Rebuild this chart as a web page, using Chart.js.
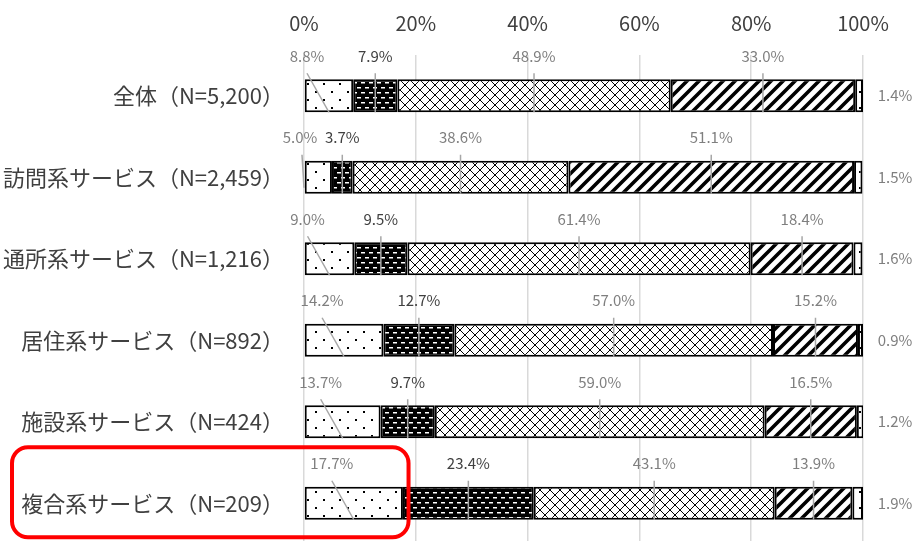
<!DOCTYPE html>
<html>
<head>
<meta charset="utf-8">
<script src="https://cdn.jsdelivr.net/npm/chart.js@4"></script>
<style>
  html, body { margin: 0; padding: 0; background: #fff; overflow: hidden; }
  #wrap { width: 912px; height: 544px; }
</style>
</head>
<body>
<div id="wrap"><canvas id="chart" width="912" height="544"></canvas></div>
<script>
const categories = ['全体（N=5,200）', '訪問系サービス（N=2,459）', '通所系サービス（N=1,216）', '居住系サービス（N=892）', '施設系サービス（N=424）', '複合系サービス（N=209）'];
const series1 = [8.8, 5.0, 9.0, 14.2, 13.7, 17.7];
const series2 = [7.9, 3.7, 9.5, 12.7, 9.7, 23.4];
const series3 = [48.9, 38.6, 61.4, 57.0, 59.0, 43.1];
const series4 = [33.0, 51.1, 18.4, 15.2, 16.5, 13.9];
const series5 = [1.4, 1.5, 1.6, 0.9, 1.2, 1.9];
const xTicks = [0, 20, 40, 60, 80, 100];

const FONT = '"Noto Sans CJK JP", "Noto Sans", sans-serif';

function makePattern(w, h, draw) {
  const c = document.createElement('canvas');
  c.width = w; c.height = h;
  const g = c.getContext('2d');
  draw(g, w, h);
  return document.getElementById('chart').getContext('2d').createPattern(c, 'repeat');
}

// sparse dots
const dots = makePattern(16, 16, (g, w, h) => {
  g.fillStyle = '#fff'; g.fillRect(0, 0, w, h);
  g.fillStyle = '#000';
  g.fillRect(3, 3, 2, 2);
  g.fillRect(11, 11, 2, 2);
});
// black with white dashes
const bricks = makePattern(8, 10, (g, w, h) => {
  g.fillStyle = '#000'; g.fillRect(0, 0, w, h);
  g.fillStyle = '#fff';
  g.fillRect(1, 2, 4, 1.5);
  g.fillRect(5, 7, 3, 1.5);
  g.fillRect(0, 7, 1, 1.5);
});
// diamond crosshatch, pixel sharp
const cross = makePattern(10, 10, (g, w, h) => {
  g.fillStyle = '#fff'; g.fillRect(0, 0, w, h);
  g.fillStyle = '#000';
  for (let k = 0; k < w; k++) {
    g.fillRect(k, k, 1, 1);
    g.fillRect(w - 1 - k, k, 1, 1);
  }
});
// wide forward stripes
const stripes = makePattern(12, 12, (g, w, h) => {
  g.fillStyle = '#fff'; g.fillRect(0, 0, w, h);
  g.strokeStyle = '#000'; g.lineWidth = 3.6;
  g.beginPath();
  g.moveTo(-6, h + 6); g.lineTo(w + 6, -6);
  g.moveTo(-6, 6); g.lineTo(6, -6);
  g.moveTo(6, h + 6); g.lineTo(w + 6, 6);
  g.stroke();
});

const fills = [dots, bricks, cross, stripes, dots];
const allSeries = [series1, series2, series3, series4, series5];

const labelPlugin = {
  id: 'callouts',
  afterDatasetsDraw(chart) {
    const ctx = chart.ctx;
    const area = chart.chartArea;
    ctx.save();
    ctx.font = '15px ' + FONT;
    ctx.textAlign = 'center';
    ctx.textBaseline = 'middle';
    chart.data.datasets.forEach((ds, i) => {
      const meta = chart.getDatasetMeta(i);
      meta.data.forEach((bar, j) => {
        const text = ds.data[j].toFixed(1) + '%';
        const cx = (bar.x + bar.base) / 2;
        const top = bar.y - bar.height / 2;
        const bottom = bar.y + bar.height / 2;
        if (i === 4) {
          ctx.fillStyle = '#7f7f7f';
          ctx.fillText(text, area.right + 32, bar.y);
          return;
        }
        let lx = cx, ex = cx, ey = bottom;
        if (i === 0) {
          lx = Math.max(area.left - 4, cx - 22);
          if (lx === area.left - 4) { ex = area.left; ey = bottom - 6; }
        }
        const ly = top - 23;
        ctx.strokeStyle = '#a6a6a6';
        ctx.lineWidth = 1.5;
        ctx.beginPath();
        ctx.moveTo(i === 0 && ex === area.left ? area.left - 2 : lx, ly + 17);
        ctx.lineTo(ex, ey);
        ctx.stroke();
        ctx.fillStyle = i === 1 ? '#404040' : '#7f7f7f';
        ctx.fillText(text, lx, ly);
      });
    });

    // red highlight round the last category
    const y = chart.scales.y.getPixelForValue(categories.length - 1);
    const x0 = 12, x1 = chart.scales.x.getPixelForValue(18.7);
    const y0 = y - 56, y1 = y + 34, r = 16;
    ctx.strokeStyle = '#ff0000';
    ctx.lineWidth = 4;
    ctx.beginPath();
    ctx.roundRect(x0, y0, x1 - x0, y1 - y0, r);
    ctx.stroke();
    ctx.restore();
  }
};

new Chart(document.getElementById('chart'), {
  type: 'bar',
  data: {
    labels: categories,
    datasets: allSeries.map((vals, i) => ({
      label: '系列' + (i + 1),
      data: vals,
      backgroundColor: fills[i],
      borderColor: '#000',
      borderWidth: 2,
      borderSkipped: false,
      barPercentage: 0.405,
      categoryPercentage: 1
    }))
  },
  options: {
    indexAxis: 'y',
    responsive: false,
    animation: false,
    devicePixelRatio: 1,
    layout: { padding: { left: 0, right: 49, top: 0, bottom: 0 } },
    plugins: { legend: { display: false }, tooltip: { enabled: false } },
    scales: {
      x: {
        position: 'top',
        stacked: true,
        min: 0,
        max: 100,
        afterBuildTicks(scale) { scale.ticks = xTicks.map(v => ({ value: v })); },
        afterFit(scale) {
          scale.height = 55;
          scale.paddingLeft = 0;
          scale.paddingRight = 0;
        },
        ticks: {
          callback: v => v + '%',
          font: { family: FONT, size: 20 },
          color: '#404040',
          padding: 20,
          maxRotation: 0,
          autoSkip: false
        },
        grid: { color: '#d9d9d9', lineWidth: 1.5, drawTicks: false },
        border: { display: false }
      },
      y: {
        stacked: true,
        afterFit(scale) {
          scale.width = 304;
          scale.paddingTop = 0;
          scale.paddingBottom = 0;
        },
        ticks: {
          font: { family: FONT, size: 22 },
          color: '#404040',
          padding: 12
        },
        grid: { display: false },
        border: { display: false }
      }
    }
  },
  plugins: [labelPlugin]
});
</script>
</body>
</html>
